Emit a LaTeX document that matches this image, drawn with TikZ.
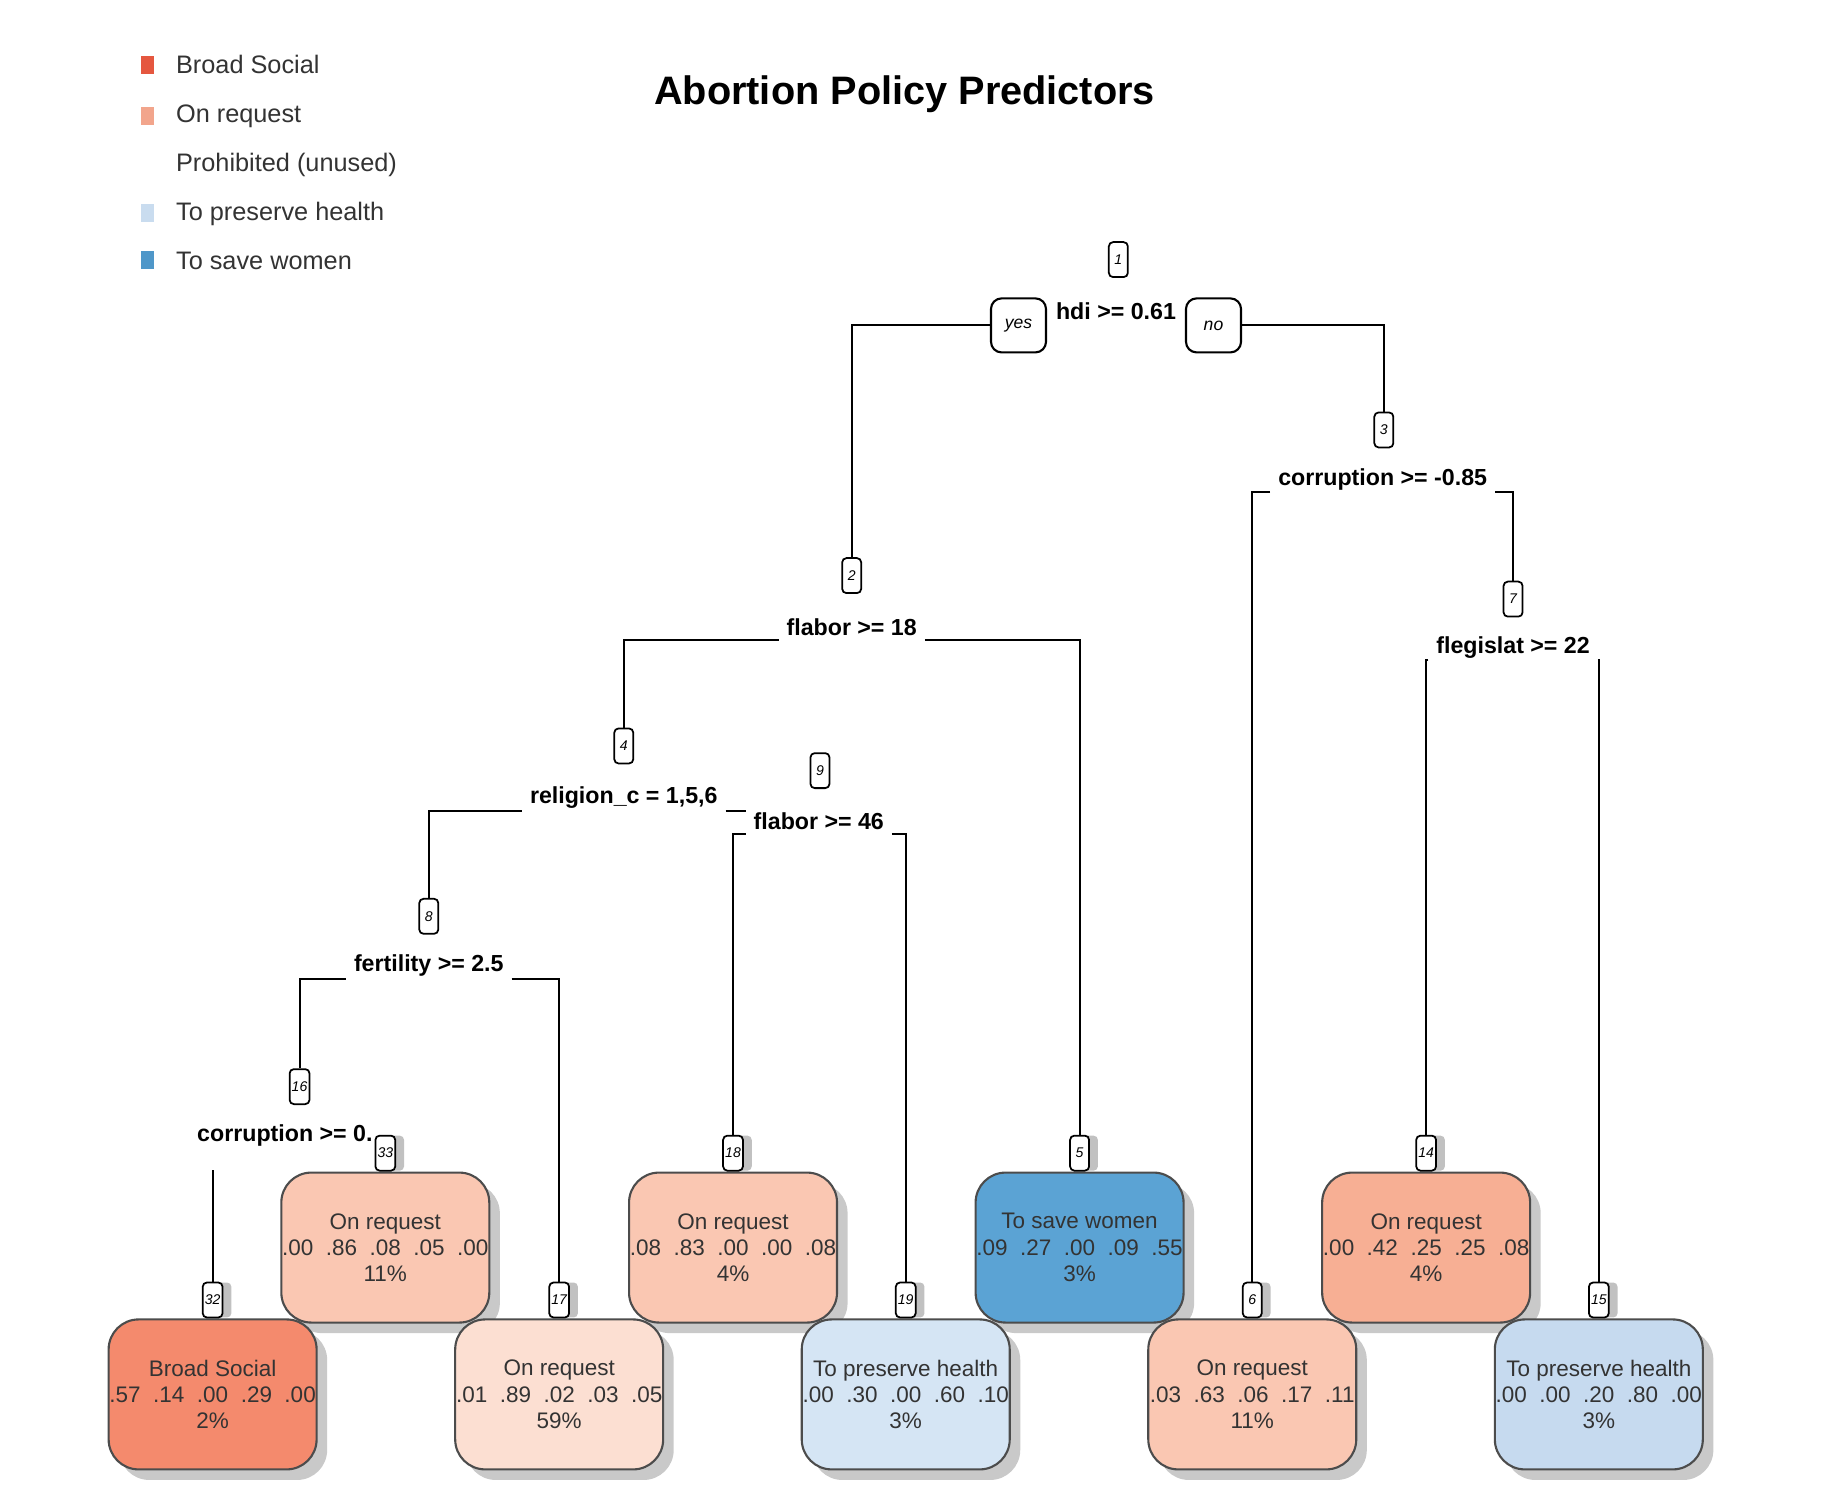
\documentclass[tikz,border=0pt]{standalone}
\usepackage{fontspec}
\setmainfont{Liberation Sans}
\usetikzlibrary{positioning,shadows}
\definecolor{BroadSoc}{HTML}{E5573F}
\definecolor{OnReq}{HTML}{F2A58C}
\definecolor{PresHealth}{HTML}{C9DCEF}
\definecolor{SaveWomen}{HTML}{4F97C9}
\definecolor{BroadLeaf}{HTML}{F48A6D}
\definecolor{ReqPale}{HTML}{FCDFD2}
\definecolor{ReqLight}{HTML}{FAC7B2}
\definecolor{ReqMid}{HTML}{F7AF94}
\definecolor{HealthLight}{HTML}{D5E5F4}
\definecolor{HealthMid}{HTML}{C6DAEF}
\definecolor{SaveLeaf}{HTML}{5BA3D4}

\begin{document}
\begin{tikzpicture}[x=0.011747cm,y=-0.011747cm,line width=.6pt,
  splitlbl/.style={font=\fontsize{6.6}{7}\selectfont\bfseries,inner sep=2pt},
  nbox/.style={draw,fill=white,rounded corners=1.2pt,font=\fontsize{4}{4}\selectfont\itshape,
    minimum width=.19cm,minimum height=.35cm,inner sep=.6pt,line width=.5pt},
  lbox/.style={nbox,drop shadow={shadow xshift=2.5pt,shadow yshift=0pt,fill=black!35,opacity=.7}},
  leafbox/.style={draw=black!70,rounded corners=.3cm,minimum width=2.08cm,minimum height=1.5cm,
    inner xsep=0pt,align=center,font=\fontsize{6.4}{7.5}\selectfont,text=black!80,
    drop shadow={shadow xshift=3pt,shadow yshift=-3pt,fill=black!30,opacity=.7}},
  yesno/.style={draw,fill=white,rounded corners=3pt,minimum width=.55cm,minimum height=.54cm,
    inner sep=1pt,font=\fontsize{5}{5}\selectfont\itshape},
  legtext/.style={anchor=west,font=\fontsize{7.2}{8}\selectfont,text=black!80,inner sep=0pt}]
\useasboundingbox (0,0) rectangle (1568,1267);

% title and legend
\node[font=\fontsize{11.3}{13}\selectfont\bfseries] (title) at (770,80) {Abortion Policy Predictors};
\fill[BroadSoc] (120,48) rectangle (131,63);
\fill[OnReq] (120,91) rectangle (131,106);
\fill[PresHealth] (120,174) rectangle (131,189);
\fill[SaveWomen] (120,214) rectangle (131,229);
\node[legtext] (lg1) at (149,55) {Broad Social};
\node[legtext] (lg2) at (149,99) {On request};
\node[legtext] (lg3) at (149,140) {Prohibited (unused)};
\node[legtext] (lg4) at (149,182) {To preserve health};
\node[legtext] (lg5) at (149,222) {To save women};

% splits
\node[nbox] (n1) at (952,221) {1};
\node[splitlbl] (s1) at (950,265) {hdi >= 0.61};
\node[yesno] (yes) at (867,277) {yes};
\node[yesno] (no) at (1033,277) {no};
\node[nbox] (n3) at (1178,366) {3};
\node[splitlbl] (s3) at (1177,408) {corruption >= -0.85};
\node[nbox] (n2) at (725,490) {2};
\node[splitlbl] (s2) at (725,534) {flabor >= 18};
\node[nbox] (n7) at (1288,510) {7};
\node[splitlbl] (s7) at (1288,551) {flegislat >= 22};
\node[nbox] (n4) at (531,635) {4};
\node[splitlbl] (s4) at (531,679) {religion\_c = 1,5,6};
\node[nbox] (n9) at (698,656) {9};
\node[splitlbl] (s9) at (697,699) {flabor >= 46};
\node[nbox] (n8) at (365,780) {8};
\node[splitlbl] (s8) at (365,822) {fertility >= 2.5};
\node[nbox] (n16) at (255,925) {16};
\node[splitlbl,anchor=west] (s16) at (161,967) {corruption >= 0.};

% leaves, upper row
\node[leafbox,fill=ReqLight] (l33) at (328,1062) {On request\\.00~~.86~~.08~~.05~~.00\\11\%};
\node[lbox,above=0pt of l33.north] (n33) {33};
\node[leafbox,fill=ReqLight] (l18) at (624,1062) {On request\\.08~~.83~~.00~~.00~~.08\\4\%};
\node[lbox,above=0pt of l18.north] (n18) {18};
\node[leafbox,fill=SaveLeaf] (l5) at (919,1062) {To save women\\.09~~.27~~.00~~.09~~.55\\3\%};
\node[lbox,above=0pt of l5.north] (n5) {5};
\node[leafbox,fill=ReqMid] (l14) at (1214,1062) {On request\\.00~~.42~~.25~~.25~~.08\\4\%};
\node[lbox,above=0pt of l14.north] (n14) {14};

% leaves, lower row
\node[leafbox,fill=BroadLeaf] (l32) at (181,1187) {Broad Social\\.57~~.14~~.00~~.29~~.00\\2\%};
\node[lbox,above=0pt of l32.north] (n32) {32};
\node[leafbox,fill=ReqPale] (l17) at (476,1187) {On request\\.01~~.89~~.02~~.03~~.05\\59\%};
\node[lbox,above=0pt of l17.north] (n17) {17};
\node[leafbox,fill=HealthLight] (l19) at (771,1187) {To preserve health\\.00~~.30~~.00~~.60~~.10\\3\%};
\node[lbox,above=0pt of l19.north] (n19) {19};
\node[leafbox,fill=ReqLight] (l6) at (1066,1187) {On request\\.03~~.63~~.06~~.17~~.11\\11\%};
\node[lbox,above=0pt of l6.north] (n6) {6};
\node[leafbox,fill=HealthMid] (l15) at (1361,1187) {To preserve health\\.00~~.00~~.20~~.80~~.00\\3\%};
\node[lbox,above=0pt of l15.north] (n15) {15};

% connectors
\draw (yes.west) -| (n2.north);
\draw (no.east) -| (n3.north);
\draw ([yshift=-3.7pt]s3.west) -| (n6.north);
\draw ([yshift=-3.7pt]s3.east) -| (n7.north);
\draw ([yshift=-3.7pt]s7.west) -| (n14.north);
\draw ([yshift=-3.7pt]s7.east) -| (n15.north);
\draw ([yshift=-3.7pt]s2.west) -| (n4.north);
\draw ([yshift=-3.7pt]s2.east) -| (n5.north);
\draw ([yshift=-3.7pt]s4.west) -| (n8.north);
\coordinate (c4) at ([yshift=-3.7pt]s4.east);
\draw (c4) -- (c4 -| s9.west);
\draw ([yshift=-3.7pt]s9.west) -| (n18.north);
\draw ([yshift=-3.7pt]s9.east) -| (n19.north);
\draw ([yshift=-3.7pt]s8.west) -| (n16.north);
\draw ([yshift=-3.7pt]s8.east) -| (n17.north);
\draw[shorten >=4.4pt] (n32.north) -- (n32.north |- s16.south);
\end{tikzpicture}
\end{document}
